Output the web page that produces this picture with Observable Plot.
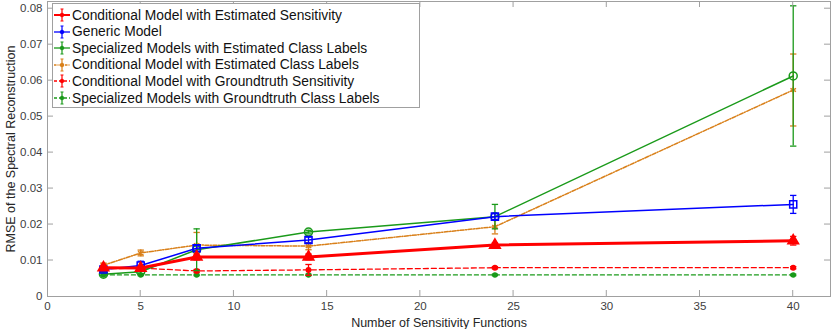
<!DOCTYPE html>
<html>
<head>
<meta charset="utf-8">
<script src="https://cdn.jsdelivr.net/npm/d3@7"></script>
<script src="https://cdn.jsdelivr.net/npm/@observablehq/plot@0.6"></script>
<style>
  body { margin: 0; background: #fff; }
  #wrap { position: relative; width: 831px; height: 329px; font-family: "Liberation Sans", Arial, sans-serif; }
  #legend { position: absolute; left: 52px; top: 3px; width: 368px; height: 105px; border: 1px solid #a0a0a0; background: #fff; box-sizing: border-box; }
  .row { position: absolute; left: 0; height: 16px; display: flex; align-items: center; font-size: 13.8px; color: #111; white-space: nowrap; }
  .row svg { margin-right: 1px; }
</style>
</head>
<body>
<div id="wrap"></div>
<script>
const xs = [3, 5, 8, 14, 24, 40];
const seriesNames = [
  "Conditional Model with Estimated Sensitivity",
  "Generic Model",
  "Specialized Models with Estimated Class Labels",
  "Conditional Model with Estimated Class Labels",
  "Conditional Model with Groundtruth Sensitivity",
  "Specialized Models with Groundtruth Class Labels"
];
const condEst      = [0.0080, 0.0079, 0.0110, 0.0110, 0.0143, 0.0155];
const condEstErr   = [0.0005, 0.0005, 0.0008, 0.0008, 0.0006, 0.0012];
const generic      = [0.0075, 0.0086, 0.0134, 0.0157, 0.0222, 0.0256];
const genericErr   = [0.0005, 0.0012, 0.0008, 0.0008, 0.0008, 0.0025];
const specEst      = [0.0062, 0.0069, 0.0130, 0.0179, 0.0222, 0.0613];
const specEstErr   = [0.0004, 0.0005, 0.0058, 0.0005, 0.0034, 0.0195];
const condLab      = [0.0087, 0.0121, 0.0143, 0.0140, 0.0194, 0.0574];
const condLabErr   = [0.0006, 0.0008, 0.0035, 0.0010, 0.0020, 0.0100];
const condGT       = [0.0077, 0.0079, 0.0071, 0.0074, 0.0080, 0.0080];
const condGTErr    = [0.0004, 0.0003, 0.0004, 0.0015, 0.0003, 0.0003];
const specGT       = [0.0060, 0.0060, 0.0060, 0.0060, 0.0060, 0.0060];
const specGTErr    = [0.0002, 0.0002, 0.0002, 0.0002, 0.0002, 0.0002];
const xTicks = [0, 5, 10, 15, 20, 25, 30, 35, 40];
const yTicks = [0, 0.01, 0.02, 0.03, 0.04, 0.05, 0.06, 0.07, 0.08];
const xLabel = "Number of Sensitivity Functions";
const yLabel = "RMSE of the Spectral Reconstruction";

const styles = [
  {vals: condEst, err: condEstErr, color: "#ff0000", width: 3, dash: null, symbol: "triangle", r: 4, fill: true},
  {vals: generic, err: genericErr, color: "#0000ff", width: 1.5, dash: null, symbol: "square", r: 4, fill: false},
  {vals: specEst, err: specEstErr, color: "#1a9a1a", width: 1.5, dash: null, symbol: "circle", r: 4, fill: false},
  {vals: condLab, err: condLabErr, color: "#d9801a", width: 1.5, dash: "4,1.5,1,1.5", symbol: "asterisk", r: 3, fill: false},
  {vals: condGT, err: condGTErr, color: "#ff0000", width: 1.3, dash: "5,3", symbol: "circle", r: 2.2, fill: true},
  {vals: specGT, err: specGTErr, color: "#1a9a1a", width: 1.3, dash: "4,3", symbol: "circle", r: 2, fill: true}
];

const marks = [];
for (let i = styles.length - 1; i >= 0; i--) {
  const s = styles[i];
  const data = xs.map((x, j) => ({x, y: s.vals[j], lo: s.vals[j] - s.err[j], hi: s.vals[j] + s.err[j]}));
  marks.push(Plot.line(data, {x: "x", y: "y", stroke: s.color, strokeWidth: s.width, strokeDasharray: s.dash}));
  marks.push(Plot.ruleX(data, {x: "x", y1: "lo", y2: "hi", stroke: s.color, strokeWidth: i === 0 ? 2 : 1.3}));
  marks.push(Plot.link(data, {x1: d => d.x - 0.17, x2: d => d.x + 0.17, y1: "lo", y2: "lo", stroke: s.color, strokeWidth: 1.3}));
  marks.push(Plot.link(data, {x1: d => d.x - 0.17, x2: d => d.x + 0.17, y1: "hi", y2: "hi", stroke: s.color, strokeWidth: 1.3}));
  marks.push(Plot.dot(data, {x: "x", y: "y", symbol: s.symbol, r: s.r, stroke: s.color, strokeWidth: 1.5, fill: s.fill ? s.color : "none"}));
}

const axisColor = "#a0a0a0";
const chart = Plot.plot({
  width: 831,
  height: 329,
  marginLeft: 47,
  marginRight: 1,
  marginTop: 1,
  marginBottom: 33,
  style: {fontFamily: "Liberation Sans, Arial, sans-serif", fontSize: "11.5px", color: "#404040", background: "#fff"},
  x: {domain: [0, 42]},
  y: {domain: [0, 0.082]},
  marks: [
    Plot.frame({stroke: axisColor}),
    Plot.axisX({ticks: xTicks, tickSize: 0, tickPadding: 5, label: null}),
    Plot.axisY({ticks: yTicks, tickSize: 0, tickPadding: 5, label: null,
      tickFormat: d => d === 0 ? "0" : d3.format(".2f")(d)}),
    Plot.text([xLabel], {frameAnchor: "bottom", lineAnchor: "middle", textAnchor: "middle", dy: 26, fontSize: 12.5, fill: "#262626"}),
    Plot.text([yLabel], {frameAnchor: "left", lineAnchor: "middle", textAnchor: "middle", rotate: -90, dx: -37, fontSize: 12.5, fill: "#262626"}),
    ...marks
  ]
});
document.getElementById("wrap").appendChild(chart);

// inward ticks on all four sides, positioned through the plot's scales
const svg = d3.select(chart);
const sx = chart.scale("x"), sy = chart.scale("y");
const g = svg.append("g").attr("stroke", axisColor);
xTicks.forEach(t => {
  const px = sx.apply(t);
  if (t > 0) {
    g.append("line").attr("x1", px).attr("x2", px).attr("y1", sy.apply(0)).attr("y2", sy.apply(0) - 6);
    g.append("line").attr("x1", px).attr("x2", px).attr("y1", sy.apply(0.082)).attr("y2", sy.apply(0.082) + 6);
  }
});
yTicks.forEach(t => {
  const py = sy.apply(t);
  if (t > 0) {
    g.append("line").attr("x1", sx.apply(0)).attr("x2", sx.apply(0) + 6).attr("y1", py).attr("y2", py);
    g.append("line").attr("x1", sx.apply(42)).attr("x2", sx.apply(42) - 6).attr("y1", py).attr("y2", py);
  }
});

// legend
const legend = document.createElement("div");
legend.id = "legend";
seriesNames.forEach((name, i) => {
  const s = styles[i];
  const row = document.createElement("div");
  row.className = "row";
  row.style.top = (3 + i * 16.6) + "px";
  const ns = "http://www.w3.org/2000/svg";
  const icon = document.createElementNS(ns, "svg");
  icon.setAttribute("width", 18); icon.setAttribute("height", 16);
  const gi = document.createElementNS(ns, "g");
  gi.setAttribute("transform", "translate(9,8)");
  gi.setAttribute("stroke", s.color);
  const line = document.createElementNS(ns, "line");
  line.setAttribute("x1", -8); line.setAttribute("x2", 8); line.setAttribute("y1", 0); line.setAttribute("y2", 0);
  line.setAttribute("stroke-width", i === 0 ? 2 : 1.3);
  if (s.dash) line.setAttribute("stroke-dasharray", i === 3 ? "2.5,1,1,1" : "3,2");
  gi.appendChild(line);
  const eb = document.createElementNS(ns, "path");
  eb.setAttribute("d", "M0,-6V6M-1.5,-6H1.5M-1.5,6H1.5");
  eb.setAttribute("stroke-width", 1.2); eb.setAttribute("fill", "none");
  gi.appendChild(eb);
  const dot = document.createElementNS(ns, "circle");
  dot.setAttribute("r", 1.8); dot.setAttribute("fill", s.color);
  gi.appendChild(dot);
  icon.appendChild(gi);
  row.appendChild(icon);
  const txt = document.createElement("span");
  txt.textContent = name;
  row.appendChild(txt);
  legend.appendChild(row);
});
document.getElementById("wrap").appendChild(legend);
</script>
</body>
</html>
